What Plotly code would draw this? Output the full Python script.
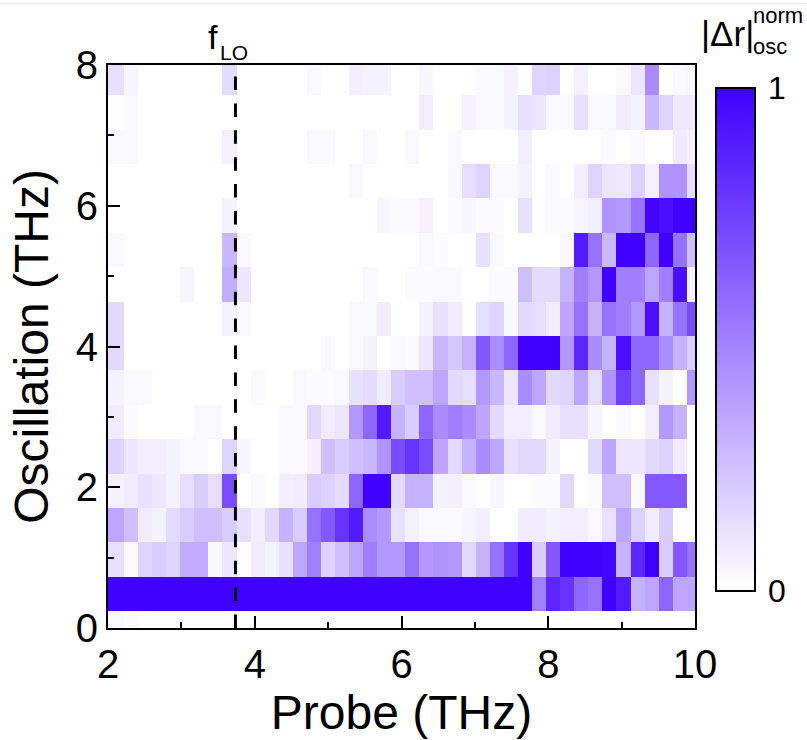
import plotly.graph_objects as go

WIDTH, HEIGHT = 807, 740
LEFT, RIGHT, TOP, BOTTOM = 108.3, 695.3, 65.0, 628.0
FONT = "Liberation Sans"

probe_edges = [2.0, 2.218, 2.410, 2.601, 2.793, 2.985, 3.176, 3.368, 3.560, 3.752, 3.943,
               4.135, 4.327, 4.519, 4.710, 4.902, 5.094, 5.286, 5.477, 5.669, 5.861,
               6.053, 6.244, 6.436, 6.628, 6.820, 7.011, 7.203, 7.395, 7.587, 7.778,
               7.970, 8.162, 8.354, 8.545, 8.737, 8.929, 9.121, 9.312, 9.504, 9.696,
               9.888, 10.0]
osc_edges = [0, 0.237, 0.726, 1.215, 1.704, 2.193, 2.682, 3.171, 3.660, 4.149, 4.638,
             5.127, 5.616, 6.105, 6.594, 7.083, 7.572, 8.0]
f_lo = 3.737

# columns 0-41, rows listed from the bottom of the map to the top
r00 = [.03,.02,0,0,0,0,0,0,0,0, 0,0,0,0,0,0,0,0,0,0, 0,0,0,0,0,0,0,0,0,0, 0,0,0,0,0,0,0,0,0,0, 0,0]
r01 = [1,1,1,1,1,1,1,1,1,1, 1,1,1,1,1,1,1,1,1,1, 1,1,1,1,1,1,1,1,1,1, .5,.85,.8,.6,.55,1,.9,.3,.35,.6, .35,.35]
r02 = [.12,.03,.17,.2,.17,.33,.33,.03,.1,.01, .08,.05,.12,.35,.5,.18,.25,.35,.5,.4, .4,.55,.4,.42,.4,.15,.3,.55,.8,1, .2,.65,1,1,1,.98,.3,.85,1,.2, .65,.55]
r03 = [.35,.25,.08,.05,.14,.2,.25,.25,.2,.12, .07,.15,.3,.2,.55,.65,.8,.9,.45,.4, .12,.05,.03,.03,.02,.04,.07,0,0,.08, .08,.05,.07,.07,.03,.12,.35,.18,.08,.2, 0,.01]
r04 = [.06,.08,.12,.1,.05,.13,.2,.13,.7,0, .02,0,.07,.08,.2,.18,.14,.6,1,1, .15,.3,.3,.05,.06,.03,0,.04,0,0, .02,.02,.15,0,.02,.25,.25,.03,.65,.65, .65,.02]
r05 = [.18,.1,.07,.07,.05,.03,.03,0,.17,.04, 0,0,.03,.03,.06,.25,.2,.25,.28,.42, .7,.8,.7,.35,.15,.3,.45,.35,.12,.15, .15,.05,0,0,.15,.35,.1,.1,.15,.18, .08,0]
r06 = [.08,.02,0,0,0,0,.03,.03,0,0, 0,0,.03,.03,.15,.08,.1,.4,.6,.9, .3,.2,.6,.45,.5,.45,.35,.15,.07,.07, .03,.08,.12,.12,.04,0,.02,0,.07,.4, .3,0]
r07 = [.05,.03,.03,0,0,0,0,0,0,0, .02,0,0,.03,.02,.02,.03,.12,.14,.08, .2,.25,.25,.35,.15,.13,.4,.28,.1,.45, .35,.15,.17,.35,.13,.42,.75,.6,.12,.05, 0,.4]
r08 = [.15,0,0,0,0,0,0,0,0,0, 0,0,0,0,0,.03,0,.03,.05,0, .03,.02,.1,.28,.22,.3,.65,.45,.6,1, 1,1,.4,.85,.45,.3,.95,.6,.6,.45, .3,.2]
r09 = [.15,0,0,0,0,0,0,0,.05,.03, 0,0,0,0,0,0,0,.03,.03,.07, 0,0,.05,.12,.08,0,.13,.17,.03,.15, .13,.07,.35,.55,.3,.55,.5,.4,.95,.3, .55,.7]
r10 = [0,0,0,0,0,.04,0,0,.32,.1, 0,0,0,0,0,0,0,0,.03,0, 0,.02,.02,.03,.03,0,0,.02,.02,.25, .14,.14,.3,.5,.4,1,.5,.5,.35,.5, .95,.05]
r11 = [.03,0,0,0,0,0,0,0,.28,.03, 0,0,0,0,0,0,0,0,0,0, 0,0,.03,.02,0,0,.12,.03,0,0, 0,0,.03,.9,.55,.28,1,1,.6,1, .55,.25]
r12 = [0,0,0,0,0,0,0,0,.05,0, 0,0,0,0,0,0,0,0,0,.04, .03,.03,.06,0,.02,.04,.02,.02,0,.12, 0,.02,.02,.04,.07,.42,.4,.55,.98,.95, 1,1]
r13 = [0,0,0,0,0,0,0,0,0,0, 0,0,0,0,0,0,0,.03,0,0, 0,0,0,0,.03,.13,.17,.03,.03,.05, 0,.02,0,.07,.17,.1,.09,.18,.06,.42, .42,.13]
r14 = [.03,.03,0,0,0,0,0,0,.06,0, 0,0,0,0,.03,.03,0,0,.03,0, 0,.03,0,0,.03,0,0,0,0,.07, 0,0,0,0,0,.02,0,.02,0,0, .08,.06]
r15 = [0,.03,0,0,0,0,0,0,0,0, 0,0,0,0,0,0,0,0,0,0, 0,0,.07,0,0,.06,.03,.03,.05,.12, .1,.03,.03,.12,.03,.03,.08,.05,.28,.17, .09,.09]
r16 = [.12,.04,0,0,0,0,0,0,.14,0, 0,0,0,0,.03,0,0,.07,.05,.05, 0,0,.04,0,0,0,.03,.03,.06,0, .17,.18,0,.06,0,0,.03,.1,.45,0, .03,.04]
rows = [r00, r01, r02, r03, r04, r05, r06, r07, r08, r09, r10, r11, r12, r13, r14, r15, r16]

def px(x):
    return (x - LEFT) / (RIGHT - LEFT)

def py(y):
    return (BOTTOM - y) / (BOTTOM - TOP)

fig = go.Figure()
fig.add_trace(go.Heatmap(
    x=probe_edges, y=osc_edges, z=rows, zmin=0, zmax=1, zsmooth=False,
    colorscale=[[0, "#ffffff"], [1, "#4000ff"]], hoverinfo="skip",
    colorbar=dict(
        x=px(716), xanchor="left", xpad=0, y=py(88), yanchor="top", ypad=0,
        thickness=39, thicknessmode="pixels", len=503, lenmode="pixels",
        outlinecolor="black", outlinewidth=2, borderwidth=0,
        tickmode="array", tickvals=[0, 1], ticktext=["0", "1"],
        ticks="outside", ticklen=6, tickwidth=1, tickcolor="rgba(0,0,0,0)",
        tickfont=dict(family=FONT, size=32, color="black"),
    ),
))
fig.add_trace(go.Scatter(
    x=[f_lo, f_lo], y=[0, 7.85], mode="lines", hoverinfo="skip", showlegend=False,
    line=dict(color="black", width=3, dash="13.5px,13.4px"),
))

axis_common = dict(
    showgrid=False, zeroline=False, showline=True, linecolor="black", linewidth=2, mirror=True,
    ticks="inside", ticklen=12, tickwidth=2, tickcolor="black",
    tickfont=dict(family=FONT, size=40, color="black"),
    minor=dict(ticks="inside", ticklen=6, tickwidth=2, tickcolor="black", dtick=1, showgrid=False),
)
fig.update_xaxes(range=[2, 10], tickvals=[2, 4, 6, 8, 10], **axis_common,
                 title=dict(text="Probe (THz)", font=dict(family=FONT, size=48, color="black"), standoff=8))
fig.update_yaxes(range=[0, 8], tickvals=[0, 2, 4, 6, 8], **axis_common,
                 title=dict(text="Oscillation (THz)", font=dict(family=FONT, size=48, color="black"), standoff=12))

def label(text, x, y, size, anchor="left"):
    fig.add_annotation(text=text, xref="paper", yref="paper", x=px(x), y=py(y), xanchor=anchor,
                       yanchor="middle", showarrow=False, borderpad=0, font=dict(family=FONT, size=size, color="black"))

label("f", 207, 37, 34)
label("LO", 219, 52, 21)
label("|Δr|", 700, 33, 35)
label("norm", 752, 15, 22)
label("osc", 752, 46, 22)

fig.add_shape(type="line", xref="paper", yref="paper", x0=px(0), x1=px(WIDTH), y0=py(3.5), y1=py(3.5),
              line=dict(color="#eeeeee", width=1))

fig.update_layout(
    width=WIDTH, height=HEIGHT, paper_bgcolor="white", plot_bgcolor="white", showlegend=False,
    margin=dict(l=LEFT, r=WIDTH - RIGHT, t=TOP, b=HEIGHT - BOTTOM, autoexpand=False),
    font=dict(family=FONT, color="black"),
)
fig.write_html("out.html", config={"displayModeBar": False},
               post_script="document.body.style.margin='0';document.documentElement.style.overflow='hidden';")
